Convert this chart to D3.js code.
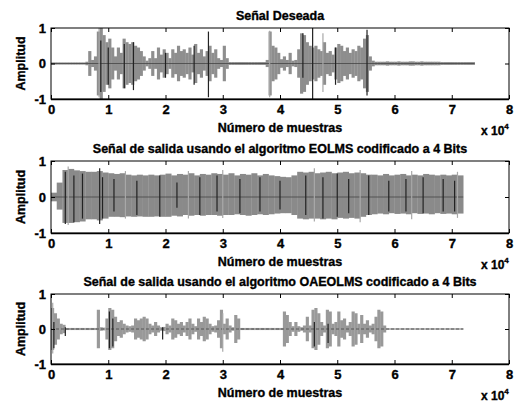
<!DOCTYPE html>
<html lang="es">
<head>
<meta charset="UTF-8">
<title>Señales</title>
<script src="https://d3js.org/d3.v7.min.js"></script>
<style>
  body { margin: 0; background: #fff; }
  svg text { font-family: "Liberation Sans", Arial, sans-serif; font-weight: bold; fill: #000; stroke: #000; stroke-width: 0.35px; }
  .tick line { stroke: #000; }
</style>
</head>
<body>
<svg id="chart" width="515" height="407"></svg>
<script>
// tick labels
const xTicks = [0, 1, 2, 3, 4, 5, 6, 7, 8];
const yTicks = [-1, 0, 1];
const titles = [
  "Señal Deseada",
  "Señal de salida usando el algoritmo EOLMS codificado a 4 Bits",
  "Señal de salida usando el algoritmo OAEOLMS codificado a 4 Bits"
];

// envelope of "Señal Deseada", one value per 0.05 x 10^4 samples
const deseadaStep = 0.05;
const deseadaAmp = [
  0.03,0.03,0.03,0.03,0.03,0.03,0.03,0.03,0.03,0.03,0.03,0.03,0.05,0.35,0.1,0.2,
  0.9,1.0,0.8,0.6,0.7,0.45,0.2,0.45,0.3,0.7,0.6,0.55,0.6,0.5,0.45,0.35,
  0.2,0.08,0.15,0.35,0.15,0.45,0.25,0.4,0.3,0.15,0.4,0.3,0.5,0.35,0.4,0.3,
  0.45,0.25,0.55,0.3,0.4,0.2,0.35,0.5,0.3,0.4,0.15,0.1,0.5,0.15,0.04,0.04,
  0.04,0.04,0.04,0.04,0.04,0.04,0.04,0.04,0.04,0.04,0.04,0.1,0.9,0.5,0.45,0.3,
  0.12,0.2,0.1,0.3,0.08,0.1,0.4,0.85,0.8,0.6,0.5,0.45,0.5,0.4,0.35,0.6,
  0.3,0.35,0.25,0.45,0.55,0.5,0.35,0.45,0.3,0.4,0.35,0.5,0.45,0.7,0.8,0.2,
  0.08,0.05,0.05,0.05,0.05,0.06,0.05,0.05,0.05,0.06,0.05,0.05,0.05,0.06,0.06,0.05,
  0.05,0.06,0.05,0.05,0.05,0.05,0.05,0.05,0.04,0.04,0.04,0.04,0.04,0.04,0.04,0.04,
  0.04,0.04,0.04,0.04
];
// single strokes: [x, top, bottom, dark?]
const deseadaSpikes = [
  [0.84, 1.0, -0.95, 0], [0.87, 0.65, -0.8, 1], [1.0, 0.45, -0.6, 1],
  [1.28, 0.55, -0.7, 1], [1.44, 0.6, -0.75, 1], [2.0, 0.3, -0.4, 1],
  [2.5, 0.5, -0.6, 1], [2.75, 0.9, -0.95, 1], [3.82, 0.92, -0.95, 0],
  [4.4, 0.85, -0.4, 1], [4.57, 1.0, -1.0, 1], [4.75, 0.85, -0.8, 0],
  [4.97, 0.45, -0.6, 1], [5.52, 0.95, -0.9, 1]
];

// envelope of EOLMS output, per 0.1 x 10^4 samples (top and bottom)
const eolmsStep = 0.1;
const eolmsHi = [
  0.12,0.4,0.75,0.78,0.74,0.72,0.7,0.7,0.72,0.68,
  0.66,0.64,0.66,0.62,0.6,0.62,0.6,0.62,0.6,0.62,
  0.65,0.6,0.64,0.62,0.66,0.6,0.64,0.62,0.66,0.64,
  0.62,0.66,0.6,0.64,0.62,0.66,0.6,0.64,0.6,0.58,
  0.56,0.55,0.6,0.7,0.68,0.7,0.66,0.68,0.7,0.66,
  0.68,0.7,0.66,0.68,0.66,0.62,0.62,0.6,0.64,0.6,
  0.62,0.64,0.6,0.62,0.6,0.64,0.62,0.6,0.62,0.6,
  0.62,0.6
];
const eolmsLo = [
  0.12,0.35,0.72,0.72,0.7,0.68,0.62,0.62,0.65,0.6,
  0.55,0.55,0.56,0.54,0.55,0.54,0.55,0.55,0.54,0.55,
  0.55,0.52,0.54,0.5,0.52,0.5,0.52,0.5,0.5,0.52,
  0.5,0.5,0.48,0.5,0.52,0.5,0.48,0.5,0.48,0.46,
  0.45,0.45,0.5,0.6,0.62,0.6,0.6,0.62,0.6,0.62,
  0.58,0.6,0.58,0.6,0.55,0.5,0.48,0.46,0.48,0.45,
  0.47,0.46,0.48,0.45,0.47,0.46,0.48,0.45,0.47,0.46,
  0.48,0.46
];
const eolmsSpikes = [
  [0.25, 0.7, -0.75, 1], [0.3, 0.85, -0.78, 0], [0.4, 0.6, -0.7, 1], [0.55, 0.65, -0.6, 1],
  [0.85, 0.8, -0.75, 1], [0.9, 0.55, -0.6, 1], [1.1, 0.5, -0.4, 1], [1.3, 0.72, -0.6, 0],
  [1.5, 0.45, -0.5, 1], [1.9, 0.6, -0.55, 1], [2.2, 0.4, -0.3, 1], [2.4, 0.72, -0.6, 0],
  [2.6, 0.55, -0.5, 1], [2.9, 0.6, -0.4, 1], [3.0, 0.75, -0.58, 0], [3.3, 0.5, -0.45, 1],
  [3.65, 0.55, -0.4, 1], [4.0, 0.45, -0.35, 1], [4.45, 0.6, -0.5, 1], [4.6, 0.8, -0.68, 0],
  [4.75, 0.55, -0.6, 1], [5.0, 0.65, -0.55, 1], [5.2, 0.5, -0.45, 1], [5.4, 0.75, -0.7, 0],
  [5.55, 0.6, -0.5, 1], [5.9, 0.45, -0.4, 1], [6.2, 0.5, -0.4, 1], [6.3, 0.72, -0.62, 0],
  [6.5, 0.55, -0.45, 1], [6.85, 0.5, -0.4, 1], [7.05, 0.45, -0.4, 1], [7.1, 0.7, -0.58, 0]
];

// envelope of OAEOLMS output, per 0.05 x 10^4 samples
const oaeolmsStep = 0.05;
const oaeolmsAmp = [
  0.6,0.45,0.3,0.15,0.12,0.03,0.03,0.03,0.03,0.03,0.03,0.03,0.03,0.03,0.03,0.03,
  0.55,0.05,0.04,0.3,0.6,0.55,0.35,0.2,0.25,0.15,0.1,0.08,0.1,0.3,0.25,0.3,
  0.35,0.3,0.15,0.1,0.2,0.1,0.05,0.06,0.15,0.1,0.3,0.25,0.15,0.2,0.1,0.2,
  0.3,0.15,0.08,0.3,0.2,0.35,0.3,0.15,0.08,0.1,0.25,0.55,0.15,0.3,0.1,0.05,
  0.4,0.3,0.03,0.03,0.03,0.03,0.03,0.03,0.03,0.03,0.03,0.03,0.03,0.03,0.03,0.03,
  0.03,0.5,0.4,0.2,0.08,0.2,0.08,0.05,0.1,0.35,0.1,0.55,0.6,0.45,0.2,0.1,
  0.55,0.5,0.15,0.2,0.5,0.25,0.3,0.1,0.2,0.5,0.45,0.15,0.4,0.15,0.25,0.1,
  0.15,0.35,0.55,0.5,0.1,0.02,0.02,0.02,0.02,0.02,0.02,0.02,0.02,0.02,0.02,0.02,
  0.02,0.02,0.02,0.02,0.02,0.02,0.02,0.02,0.02,0.02,0.02,0.02,0.02,0.02,0.02,0.02
];
const oaeolmsSpikes = [
  [0.03, 0.75, -0.7, 0], [0.05, 0.2, -0.55, 1], [0.25, 0.05, -0.2, 1],
  [1.02, 0.5, -0.55, 1], [1.08, 0.3, -0.5, 1], [1.95, 0.05, -0.3, 1],
  [3.0, 0.45, -0.65, 0], [4.6, 0.2, -0.5, 1], [4.84, 0.15, -0.4, 1]
];

const panels = [
  { title: titles[0], step: deseadaStep, hi: deseadaAmp, lo: deseadaAmp, spikes: deseadaSpikes, fill: "#8e8e8e", top: 28, bottom: 99, dash: null },
  { title: titles[1], step: eolmsStep, hi: eolmsHi, lo: eolmsLo, spikes: eolmsSpikes, fill: "#8a8a8a", top: 161, bottom: 233, dash: null },
  { title: titles[2], step: oaeolmsStep, hi: oaeolmsAmp, lo: oaeolmsAmp, spikes: oaeolmsSpikes, fill: "#999", top: 294, bottom: 364, dash: "3,2" }
];

const svg = d3.select("#chart");
const left = 51, right = 509;
const x = d3.scaleLinear().domain([0, 8]).range([left, right]);

panels.forEach(p => {
  const y = d3.scaleLinear().domain([-1, 1]).range([p.bottom, p.top]);
  const g = svg.append("g");
  const bw = x(p.step) - x(0);

  // envelope bins
  g.selectAll("rect.bin")
    .data(p.hi.map((h, i) => ({ x0: i * p.step, hi: h, lo: p.lo[i] })))
    .enter().append("rect")
    .attr("class", "bin")
    .attr("x", d => x(d.x0))
    .attr("width", bw + 0.3)
    .attr("y", d => y(d.hi))
    .attr("height", d => Math.max(1, y(-d.lo) - y(d.hi)))
    .attr("fill", p.fill);

  // trace along zero
  const end = p.hi.length * p.step;
  g.append("line")
    .attr("x1", x(0)).attr("x2", x(end))
    .attr("y1", y(0)).attr("y2", y(0))
    .attr("stroke", "#444").attr("stroke-width", 0.8)
    .attr("stroke-dasharray", p.dash);

  g.selectAll("line.spike")
    .data(p.spikes)
    .enter().append("line")
    .attr("class", "spike")
    .attr("x1", d => x(d[0])).attr("x2", d => x(d[0]))
    .attr("y1", d => y(d[1])).attr("y2", d => y(d[2]))
    .attr("stroke", d => d[3] ? "#222" : "#a8a8a8")
    .attr("stroke-width", 1.2);

  // box
  g.append("rect")
    .attr("x", left).attr("y", p.top)
    .attr("width", right - left).attr("height", p.bottom - p.top)
    .attr("fill", "none").attr("stroke", "#000").attr("stroke-width", 1);
  g.append("line")
    .attr("x1", left).attr("x2", right)
    .attr("y1", p.bottom + 0.5).attr("y2", p.bottom + 0.5)
    .attr("stroke", "#000").attr("stroke-width", 1.5);

  // axes
  const xb = g.append("g").attr("transform", `translate(0,${p.bottom})`)
    .call(d3.axisBottom(x).tickValues(xTicks).tickFormat(d3.format("d"))
      .tickSizeInner(-4).tickSizeOuter(0).tickPadding(6));
  g.append("g").attr("transform", `translate(0,${p.top})`)
    .call(d3.axisTop(x).tickValues(xTicks).tickFormat("")
      .tickSizeInner(-4).tickSizeOuter(0));
  const yl = g.append("g").attr("transform", `translate(${left},0)`)
    .call(d3.axisLeft(y).tickValues(yTicks).tickFormat(d3.format("d"))
      .tickSizeInner(-4).tickSizeOuter(0).tickPadding(5));
  g.append("g").attr("transform", `translate(${right},0)`)
    .call(d3.axisRight(y).tickValues(yTicks).tickFormat("")
      .tickSizeInner(-4).tickSizeOuter(0));
  g.selectAll(".domain").remove();
  xb.selectAll("text").style("font-size", "13px").attr("font-family", null);
  yl.selectAll("text").style("font-size", "13px").attr("font-family", null)
    .text(d => d === -1 ? "-1" : d);

  // labels
  g.append("text")
    .attr("x", (left + right) / 2).attr("y", p.top - 8)
    .attr("text-anchor", "middle").style("font-size", "12.5px")
    .text(p.title);
  g.append("text")
    .attr("x", (left + right) / 2).attr("y", p.bottom + 33)
    .attr("text-anchor", "middle").style("font-size", "12.5px")
    .text("Número de muestras");
  g.append("text")
    .attr("transform", `translate(25,${(p.top + p.bottom) / 2}) rotate(-90)`)
    .attr("text-anchor", "middle").style("font-size", "12.5px")
    .text("Amplitud");
  const mult = g.append("text")
    .attr("x", 481).attr("y", p.bottom + 36)
    .style("font-size", "12px");
  mult.append("tspan").text("x 10");
  mult.append("tspan").attr("dy", -6).style("font-size", "8px").text("4");
});
</script>
</body>
</html>
